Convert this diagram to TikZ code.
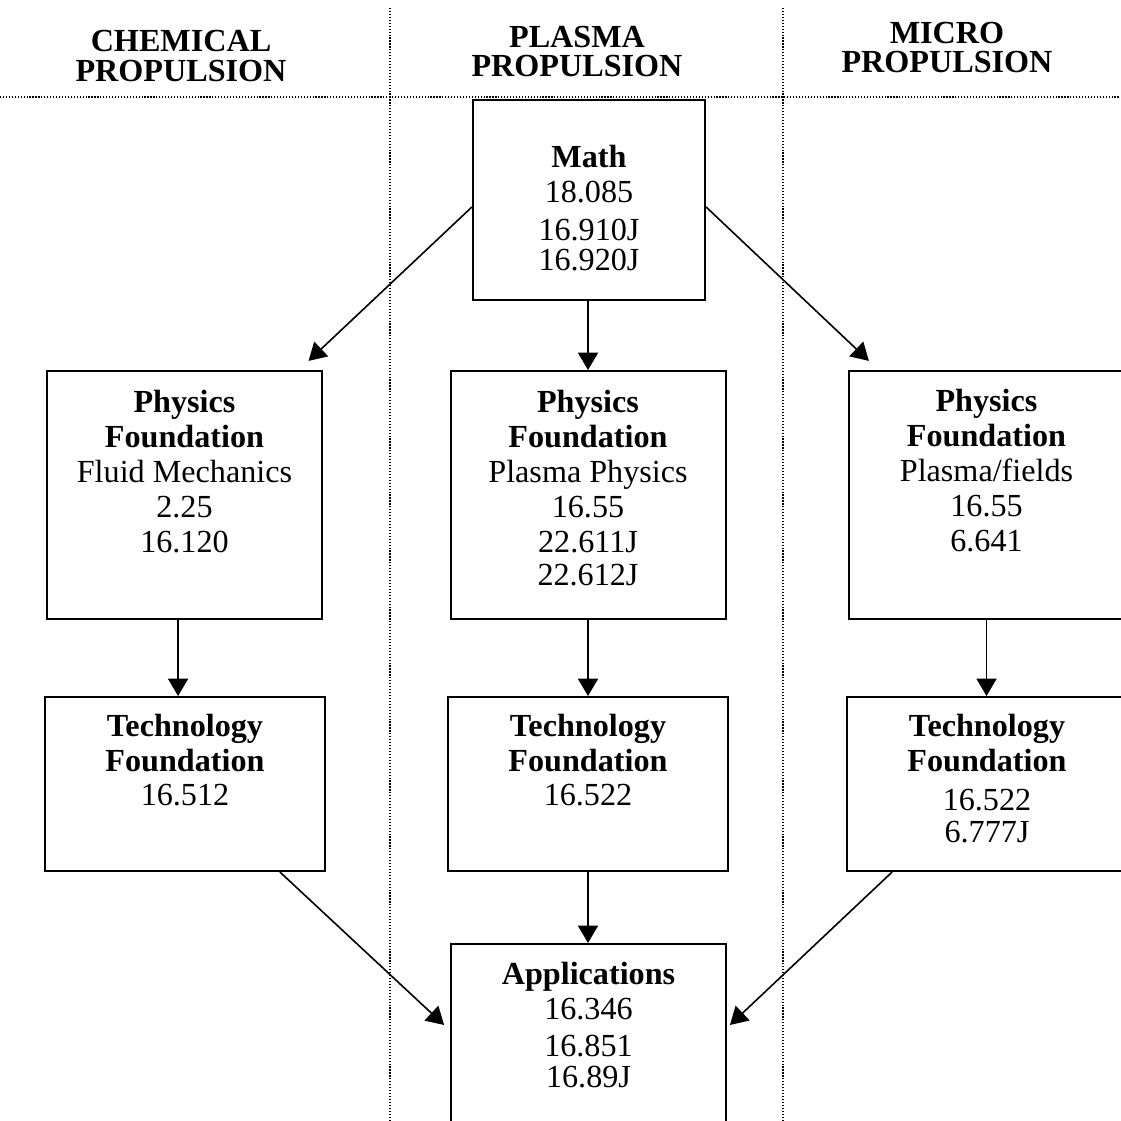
\documentclass[tikz,border=0pt]{standalone}
\usepackage{fontspec}
\setmainfont{Liberation Serif}
\usetikzlibrary{arrows.meta,positioning}

\tikzset{
  course/.style 2 args={draw, line width=0.75pt, inner sep=0pt, minimum width=#1, minimum height=#2},
  coursetext/.style={align=center, inner sep=0pt, font=\fontsize{12}{13}\selectfont},
  header/.style={align=center, inner sep=0pt, font=\fontsize{12}{11}\selectfont\bfseries},
  divider/.style={line width=0.5pt, dash pattern=on 0.45pt off 0.65pt},
  link/.style={line width=0.6pt, -{Triangle[length=6.5pt,width=7.5pt]}}
}

\begin{document}
\begin{tikzpicture}[x=0.3731pt, y=-0.3731pt]
\useasboundingbox (0,0) rectangle (1120,1121);

% column dividers
\draw[divider] (0,97) -- (1120,97);
\draw[divider] (390,8) -- (390,1121);
\draw[divider] (783,8) -- (783,1121);

% column headers
\node[header] (hchem) at (181,56) {CHEMICAL\\PROPULSION};
\node[header] (hplasma) at (577,51.5) {PLASMA\\PROPULSION};
\node[header] (hmicro) at (947,47.5) {MICRO\\PROPULSION};

% boxes
\node[course={86.6pt}{74.6pt}] (math) at (589,200) {};
\node[course={102.6pt}{92.5pt}] (physC) at (184.5,495) {};
\node[course={102.6pt}{92.5pt}] (physP) at (588,495) {};
\node[course={102.6pt}{92.5pt}] (physM) at (986.5,495) {};
\node[course={104.5pt}{64.9pt}] (techC) at (185,784) {};
\node[course={104.5pt}{64.9pt}] (techP) at (588,784) {};
\node[course={104.5pt}{64.9pt}] (techM) at (987,784) {};
\node[course={102.6pt}{74.6pt}] (app) at (588.5,1044) {};

% box contents
\node[coursetext, below=17pt of math.north] (mathtxt)
  {\textbf{Math}\\18.085\\[1.2pt]16.910J\\[-1.8pt]16.920J};
\node[coursetext, below=7.5pt of physC.north] (physCtxt)
  {\textbf{Physics}\\\textbf{Foundation}\\Fluid Mechanics\\2.25\\16.120};
\node[coursetext, below=7.5pt of physP.north] (physPtxt)
  {\textbf{Physics}\\\textbf{Foundation}\\Plasma Physics\\16.55\\22.611J\\[-0.6pt]22.612J};
\node[coursetext, below=7pt of physM.north] (physMtxt)
  {\textbf{Physics}\\\textbf{Foundation}\\Plasma/fields\\16.55\\6.641};
\node[coursetext, below=6.5pt of techC.north] (techCtxt)
  {\textbf{Technology}\\\textbf{Foundation}\\16.512};
\node[coursetext, below=6.5pt of techP.north] (techPtxt)
  {\textbf{Technology}\\\textbf{Foundation}\\16.522};
\node[coursetext, below=6.5pt of techM.north] (techMtxt)
  {\textbf{Technology}\\\textbf{Foundation}\\[1.8pt]16.522\\[-1.2pt]6.777J};
\node[coursetext, below=7pt of app.north] (apptxt)
  {\textbf{Applications}\\16.346\\[0.7pt]16.851\\[-1.2pt]16.89J};

% free arrow ends
\coordinate (tipC) at ([xshift=-5.4pt,yshift=3.4pt]physC.north east);
\coordinate (tipM) at ([xshift=7.8pt,yshift=3.4pt]physM.north west);
\coordinate (tipAL) at ([xshift=-2.2pt,yshift=7.1pt]app.west);
\coordinate (tipAR) at ([xshift=1.1pt,yshift=7.1pt]app.east);

% arrows
\draw[link] ([yshift=-2.6pt]math.west) -- (tipC);
\draw[link] ([yshift=-2.6pt]math.east) -- (tipM);
\draw[link] (physP.north |- math.south) -- (physP.north);
\draw[link] ([xshift=-2.4pt]physC.south) -- ([xshift=-2.4pt]physC.south |- techC.north);
\draw[link] (physP.south) -- (techP.north);
\draw[link] (physM.south) -- (physM.south |- techM.north);
\draw[link] (techP.south) -- (techP.south |- app.north);
\draw[link] ([xshift=35.4pt]techC.south) -- (tipAL);
\draw[link] ([xshift=-35.4pt]techM.south) -- (tipAR);
\end{tikzpicture}
\end{document}
